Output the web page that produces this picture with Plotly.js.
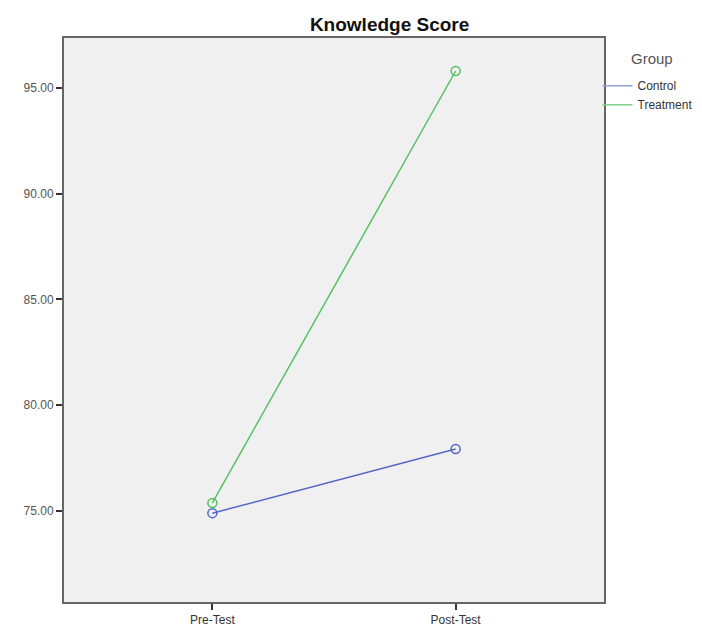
<!DOCTYPE html>
<html><head><meta charset="utf-8">
<script src="https://cdn.plot.ly/plotly-3.0.1.min.js"></script>
<style>html,body{margin:0;padding:0;background:#fff;}#chart{width:702px;height:629px;}</style>
</head><body><div id="chart"></div>
<script>
const categories = ["Pre-Test", "Post-Test"];
const seriesNames = ["Control", "Treatment"];
const controlValues = [74.9, 77.93];
const treatmentValues = [75.38, 95.8];
const yTicks = [75, 80, 85, 90, 95];
const legendTitle = "Group";

const colors = ["#5467c4", "#56c162"];
const legendColors = ["#8f9fdc", "#7ed08a"];

const traces = [controlValues, treatmentValues].map((vals, i) => ({
  type: "scatter", mode: "lines+markers", name: seriesNames[i],
  x: categories, y: vals,
  line: {color: colors[i], width: 1.5},
  marker: {symbol: "circle-open", size: 9, color: colors[i], line: {width: 1.5}}
}));

const layout = {
  width: 702, height: 629,
  margin: {l: 64, r: 98, t: 38, b: 27, autoexpand: false},
  paper_bgcolor: "#ffffff", plot_bgcolor: "#f0f0f0",
  font: {family: "Liberation Sans, Arial, sans-serif", color: "#444", size: 11},
  title: {text: "Knowledge Score", font: {size: 19, color: "#111", family: "Liberation Sans, Arial, sans-serif", weight: "bold"}, x: 0.555, xanchor: "center", y: 0.962, yanchor: "middle"},
  showlegend: true,
  legend: {x: 0.988, xanchor: "left", y: 0.941, yanchor: "top", bgcolor: "rgba(0,0,0,0)",
    font: {size: 12, color: "#333"}, tracegroupgap: 0, itemwidth: 30},
  annotations: [{text: legendTitle, xref: "paper", yref: "paper", x: 1.046, y: 0.9645,
    xanchor: "left", yanchor: "middle", showarrow: false, font: {size: 15, color: "#555"}}],
  xaxis: {type: "category", range: [-0.61, 1.61], showgrid: false, zeroline: false,
    showline: true, linecolor: "#666", linewidth: 2, mirror: true,
    ticks: "outside", ticklen: 6, tickwidth: 2, tickcolor: "#333",
    tickfont: {size: 12, color: "#333"}, fixedrange: true},
  yaxis: {range: [70.7, 97.36], tickvals: yTicks, tickformat: ".2f", showgrid: false, zeroline: false,
    showline: true, linecolor: "#666", linewidth: 2, mirror: true,
    ticks: "outside", ticklen: 6, tickwidth: 2, tickcolor: "#333",
    tickfont: {size: 12, color: "#555"}}
};

Plotly.newPlot("chart", traces, layout, {displayModeBar: false, staticPlot: true}).then(() => {
  document.querySelectorAll(".legend .traces").forEach((g, i) => {
    g.querySelectorAll(".js-line").forEach(p => p.style.stroke = legendColors[i]);
    g.querySelectorAll(".legendpoints path").forEach(p => p.style.display = "none");
  });
});
</script></body></html>
